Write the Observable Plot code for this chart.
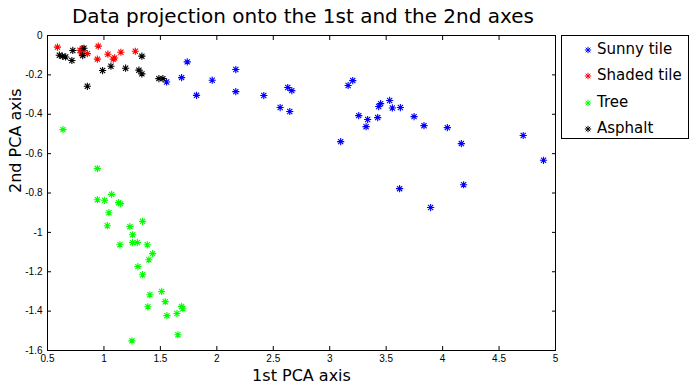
<!DOCTYPE html>
<html><head><meta charset="utf-8">
<script src="https://cdn.jsdelivr.net/npm/d3@7"></script>
<script src="https://cdn.jsdelivr.net/npm/@observablehq/plot@0.6"></script>
<style>
body{margin:0;background:#fff;}
#wrap{position:relative;width:694px;height:387px;font-family:"DejaVu Sans",sans-serif;}
#title{position:absolute;left:0;top:4px;width:606px;text-align:center;font-size:20px;color:#000;}
#legend{position:absolute;left:561px;top:35px;width:126px;height:102px;border:1px solid #000;background:#fff;}
.row{position:absolute;left:0;height:20px;font-size:15px;line-height:20px;white-space:nowrap;}
.row svg{position:absolute;left:21px;top:6px;}
.row span{position:absolute;left:35px;top:0;}
svg.plot{position:absolute;left:0;top:0;}
</style></head><body>
<div id="wrap"></div>
<script>
const titleText = "Data projection onto the 1st and the 2nd axes";
const xLabel = "1st PCA axis";
const yLabel = "2nd PCA axis";
const seriesNames = ["Sunny tile", "Shaded tile", "Tree", "Asphalt"];
const seriesColors = ["#0000ff", "#ff0000", "#00ff00", "#000000"];
const xTicks = [0.5, 1, 1.5, 2, 2.5, 3, 3.5, 4, 4.5, 5];
const yTicks = [0, -0.2, -0.4, -0.6, -0.8, -1, -1.2, -1.4, -1.6];

const sunnyX = [1.555,1.688,1.738,1.820,1.959,2.168,2.168,2.416,2.561,2.628,2.664,2.646,3.097,3.163,3.204,3.257,3.336,3.322,3.425,3.434,3.451,3.531,3.555,3.626,3.747,3.835,4.042,4.166,4.714,4.894,3.619,4.186,3.894];
const sunnyY = [-0.236,-0.214,-0.134,-0.304,-0.227,-0.173,-0.285,-0.305,-0.366,-0.264,-0.280,-0.386,-0.539,-0.254,-0.229,-0.407,-0.427,-0.463,-0.417,-0.361,-0.346,-0.330,-0.368,-0.366,-0.412,-0.458,-0.468,-0.549,-0.508,-0.634,-0.778,-0.758,-0.874];

const shadedX = [0.588,0.788,0.809,0.800,0.853,0.950,0.942,1.035,1.083,1.095,1.150,1.278];
const shadedY = [-0.059,-0.075,-0.066,-0.088,-0.092,-0.054,-0.120,-0.095,-0.120,-0.114,-0.085,-0.080];

const treeX = [0.637,0.942,0.942,1.006,1.068,1.130,1.148,1.044,1.030,1.230,1.342,1.254,1.254,1.296,1.142,1.384,1.431,1.398,1.301,1.342,1.511,1.407,1.543,1.389,1.688,1.699,1.646,1.558,1.655,1.248];
const treeY = [-0.478,-0.676,-0.834,-0.837,-0.807,-0.849,-0.854,-0.900,-0.966,-0.971,-0.944,-1.012,-1.052,-1.052,-1.063,-1.063,-1.108,-1.139,-1.174,-1.215,-1.300,-1.317,-1.352,-1.378,-1.376,-1.388,-1.412,-1.423,-1.520,-1.551];

const asphaltX = [0.605,0.632,0.661,0.724,0.716,0.823,0.812,0.988,1.062,1.192,1.310,1.336,1.336,0.853,1.487,1.522];
const asphaltY = [-0.100,-0.105,-0.109,-0.076,-0.127,-0.065,-0.102,-0.178,-0.156,-0.166,-0.176,-0.195,-0.105,-0.258,-0.219,-0.219];

const seriesXs = [sunnyX, shadedX, treeX, asphaltX];
const seriesYs = [sunnyY, shadedY, treeY, asphaltY];

const points = [];
seriesNames.forEach((name, i) => {
  seriesXs[i].forEach((x, j) => points.push({series: name, x, y: seriesYs[i][j]}));
});

// MATLAB-style asterisk: "+" overlaid with "x"
const star = {
  draw(ctx, size) {
    const r = Math.sqrt(size / Math.PI);
    const d = r * 0.72;
    ctx.moveTo(-r, 0); ctx.lineTo(r, 0);
    ctx.moveTo(0, -r); ctx.lineTo(0, r);
    ctx.moveTo(-d, -d); ctx.lineTo(d, d);
    ctx.moveTo(-d, d); ctx.lineTo(d, -d);
  }
};

const fmt = d => String(d);
const chart = Plot.plot({
  width: 694, height: 387,
  marginLeft: 47, marginRight: 139, marginTop: 35, marginBottom: 37,
  style: {fontFamily: "'Liberation Sans', Arial, sans-serif", fontSize: "10px", color: "#000", background: "transparent"},
  x: {domain: [0.5, 5]},
  y: {domain: [-1.6, 0]},
  color: {domain: seriesNames, range: seriesColors},
  marks: [
    Plot.axisX(xTicks, {anchor: "bottom", tickSize: -4, tickPadding: 8, tickFormat: fmt, label: null, stroke: "#000"}),
    Plot.axisX(xTicks, {anchor: "top", tickSize: -4, tickFormat: null, text: null, label: null, stroke: "#000"}),
    Plot.axisY(yTicks, {anchor: "left", tickSize: -4, tickPadding: 9, tickFormat: fmt, label: null, stroke: "#000"}),
    Plot.axisY(yTicks, {anchor: "right", tickSize: -4, text: null, label: null, stroke: "#000"}),
    Plot.frame({stroke: "#000"}),
    Plot.dot(points, {x: "x", y: "y", stroke: "series", symbol: star, r: 3.6, strokeWidth: 1.1, fill: "none"}),
    Plot.text([xLabel], {frameAnchor: "bottom", dy: 30, fontSize: 16, fontFamily: "DejaVu Sans", fill: "#000"}),
    Plot.text([yLabel], {frameAnchor: "left", dx: -32, rotate: -90, fontSize: 16, fontFamily: "DejaVu Sans", fill: "#000"})
  ]
});
chart.classList.add("plot");

const wrap = document.getElementById("wrap");
wrap.appendChild(chart);
const t = document.createElement("div");
t.id = "title"; t.textContent = titleText;
wrap.appendChild(t);

const legend = document.createElement("div");
legend.id = "legend";
seriesNames.forEach((name, i) => {
  const row = document.createElement("div");
  row.className = "row";
  row.style.top = (3 + i * 26.3) + "px";
  const s = d3.create("svg").attr("width", 10).attr("height", 10);
  const p = d3.path(); star.draw(p, 3.2 * 3.2 * Math.PI);
  s.append("path").attr("transform", "translate(5,5)").attr("d", p.toString())
    .attr("stroke", seriesColors[i]).attr("fill", "none").attr("stroke-width", 1);
  row.appendChild(s.node());
  const sp = document.createElement("span"); sp.textContent = name;
  row.appendChild(sp);
  legend.appendChild(row);
});
wrap.appendChild(legend);
</script>
</body></html>
